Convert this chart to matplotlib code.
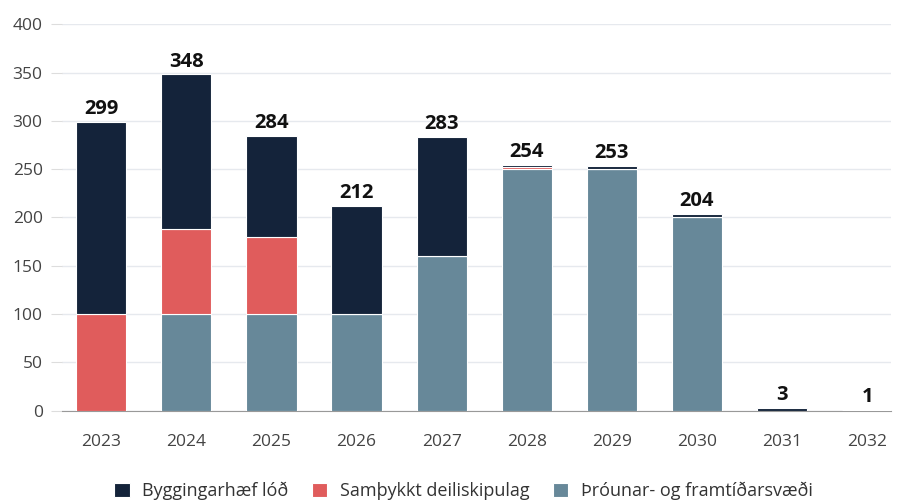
import numpy as np
import matplotlib.pyplot as plt

plt.rcParams['font.family'] = ['Open Sans', 'DejaVu Sans']

years = ["2023", "2024", "2025", "2026", "2027", "2028", "2029", "2030", "2031", "2032"]
throun = [0, 100, 100, 100, 160, 250, 250, 200, 0, 0]
samthykkt = [100, 88, 80, 0, 0, 2, 0, 0, 0, 0]
byggingarhaef = [199, 160, 104, 112, 123, 2, 3, 4, 3, 1]
totals = [299, 348, 284, 212, 283, 254, 253, 204, 3, 1]

c_navy = "#14233a"
c_red = "#e05c5c"
c_grey = "#678899"

fig, ax = plt.subplots(figsize=(9, 5.04), dpi=100)
fig.subplots_adjust(left=0.069, right=0.99, top=0.952, bottom=0.185)

x = np.arange(len(years))
w = 0.59
b1 = np.array(throun)
b2 = b1 + np.array(samthykkt)
ax.bar(x, throun, w, color=c_grey, edgecolor="white", linewidth=0.8,
       label="Þróunar- og framtíðarsvæði", zorder=3)
ax.bar(x, samthykkt, w, bottom=b1, color=c_red, edgecolor="white", linewidth=0.8,
       label="Samþykkt deiliskipulag", zorder=3)
ax.bar(x, byggingarhaef, w, bottom=b2, color=c_navy, edgecolor="white", linewidth=0.8,
       label="Byggingarhæf lóð", zorder=3)

for xi, t in zip(x, totals):
    ax.text(xi, t + 3, str(t), ha="center", va="bottom", fontsize=14.5,
            fontweight="bold", color="#111111")

ax.set_ylim(0, 400)
ax.set_xlim(-0.46, 9.28)
ax.set_yticks(range(0, 401, 50))
ax.set_xticks(x)
ax.set_xticklabels(years)
ax.grid(axis="y", color="#e6e9ee", linewidth=1, zorder=0)
for s in ["top", "right", "left"]:
    ax.spines[s].set_visible(False)
ax.spines["bottom"].set_color("#999999")
ax.tick_params(axis="y", length=8, color="#dddddd", labelsize=12.5, labelcolor="#444444", pad=6)
ax.tick_params(axis="x", length=0, labelsize=12.5, labelcolor="#444444", pad=17)

handles, labels = ax.get_legend_handles_labels()
fig.legend(handles[::-1], labels[::-1], loc="lower center", bbox_to_anchor=(0.515, -0.025),
           ncol=3, frameon=False, fontsize=13, handlelength=0.85, handleheight=0.85,
           columnspacing=1.3, handletextpad=0.7, labelcolor="#333333")

fig.savefig("out.png", dpi=100)
